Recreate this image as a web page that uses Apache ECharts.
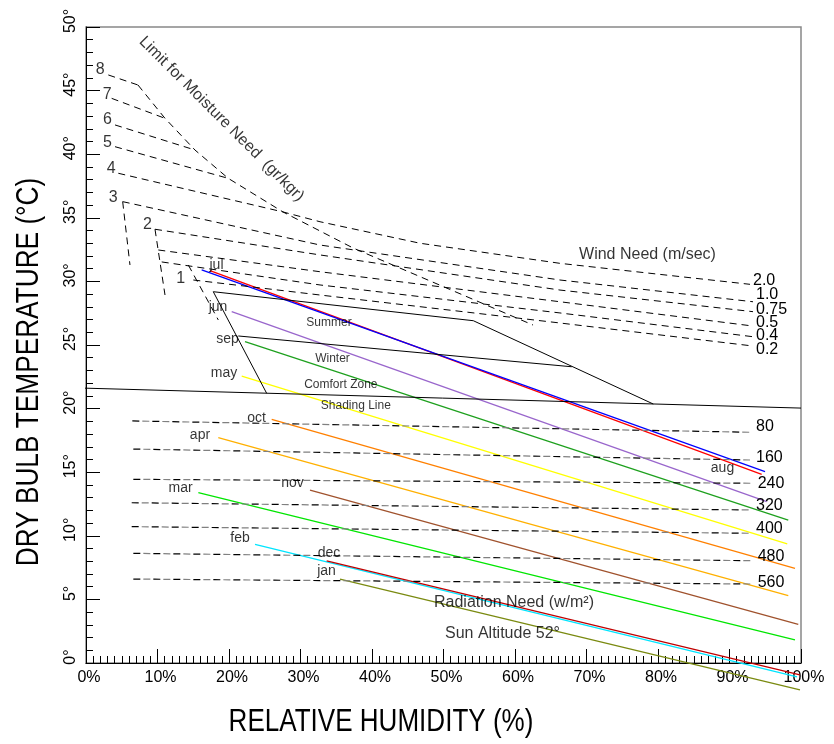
<!DOCTYPE html>
<html><head><meta charset="utf-8">
<script src="https://cdn.jsdelivr.net/npm/echarts@6/dist/echarts.min.js"></script>
<style>html,body{margin:0;padding:0;background:#fff}#c{width:834px;height:744px}</style>
</head><body><div id="c"></div>
<script>
// ===== DATA (x = relative humidity %, y = dry bulb temperature °C) =====
const xTickValues = [0,10,20,30,40,50,60,70,80,90,100];
const yTickValues = [0,5,10,15,20,25,30,35,40,45,50];

// monthly lines (start / end)
const monthNames   = ['jul','aug','jun','sep','may','oct','apr','nov','mar','feb','dec','jan'];
const monthStartRH = [17.34,16.18,20.38,22.24,21.78,25.97,18.50,31.33,15.71,23.64,33.66,35.52];
const monthStartT  = [30.84,30.90,27.62,25.26,22.56,19.16,17.71,13.60,13.39, 9.33, 8.02, 6.60];
const monthEndRH   = [94.50,94.97,95.20,98.22,98.08,99.16,98.22,99.62,99.16,99.44,99.86,99.86];
const monthEndT    = [14.83,15.04,12.68,11.24, 9.36, 7.44, 5.29, 3.04, 1.81,-1.10,-0.94,-2.12];
// month label anchors
const monthLabelNames = ['jul','aug','jun','sep','may','oct','apr','nov','mar','feb','dec','jan'];
const monthLabelRH = [18.25,89.02,18.46,19.79,19.30,23.87,15.94,28.88,13.22,21.54,33.99,33.64];
const monthLabelT  = [31.29,15.31,28.01,25.45,22.78,19.24,17.92,14.13,13.73, 9.80, 8.67, 7.26];

// moisture need lines (gr/kg) 8..5 end on the limit line
const moistureNames = ['8','7','6','5'];
const moistureStartRH = [3.12,3.59,4.06,4.06];
const moistureStartT  = [46.23,44.39,42.30,40.59];
const moistureEndRH   = [7.27,11.05,15.24,19.90];
const moistureEndT    = [45.44,42.82,40.33,38.10];
// moisture line 4 continues as wind 2.0 line
const line4RH = [4.52,27.55,32.73,46.71,66.29,92.87];
const line4T  = [38.50,35.46,34.69,33.00,31.42,29.77];
// limit for moisture need
const limitRH = [7.27,11.05,15.24,19.90,27.55,37.34,62.52];
const limitT  = [45.44,42.82,40.33,38.10,35.46,32.63,26.57];
// short moisture markers 3, 2, 1
const mark3RH = [5.13,6.15];   const mark3T = [36.27,31.29];
const mark2RH = [9.65,11.05];  const mark2T = [34.10,28.93];
const mark1RH = [14.31,18.50]; const mark1T = [31.29,26.97];
// moisture number labels
const moistureLabelNames = ['8','7','6','5','4','3','2','1'];
const moistureLabelRH = [1.98,2.96,3.01,3.01,3.52,3.82,8.60,13.24];
const moistureLabelT  = [46.64,44.69,42.71,40.90,38.89,36.62,34.43,30.21];

// wind need lines (m/sec)
const windNames = ['1.0','0.75','0.5','0.4','0.2'];
const wind10RH  = [5.13,32.73,66.29,93.29];  const wind10T  = [36.27,32.86,30.11,28.40];
const wind075RH = [9.65,32.73,66.29,93.29];  const wind075T = [34.10,32.08,29.32,27.62];
const wind05RH  = [10.11,32.73,66.29,93.29]; const wind05T  = [32.47,30.76,28.40,26.49];
const wind04RH  = [10.59,32.73,66.29,93.29]; const wind04T  = [31.53,29.72,27.52,25.65];
const wind02RH  = [15.01,32.73,66.29,93.29]; const wind02T  = [30.11,28.93,26.73,24.92];

// radiation need lines (w/m²)
const radNames   = ['80','160','240','320','400','480','560'];
const radStartRH = [6.48,6.62,6.62,6.39,6.39,6.62,6.62];
const radStartT  = [19.03,16.82,14.44,12.60,10.72,8.62,6.60];
const radEndRH   = [92.87,92.87,93.10,92.87,92.87,93.10,93.10];
const radEndT    = [18.14,15.96,14.13,12.03,10.20,8.04,6.21];

// comfort zone outline
const summerTopRH = [17.80,54.17]; const summerTopT = [29.19,26.91];
const zoneRightRH = [54.17,79.34]; const zoneRightT = [26.91,20.36];
const zoneLeftRH  = [17.80,25.27]; const zoneLeftT  = [29.19,21.20];
const winterTopRH = [21.30,67.93]; const winterTopT = [25.71,23.29];
const shadingRH   = [-1,100];      const shadingT   = [21.62,20.04];

// free annotations
const noteTexts = ['Summer','Winter','Comfort Zone','Shading Line','Wind Need (m/sec)','Radiation Need (w/m²)','Sun Altitude 52°'];
const noteRH = [33.99,34.48,35.64,37.74,78.53,59.86,58.25];
const noteT  = [26.75,23.95,21.86,20.23,32.08,4.72,2.33];
const limitText = 'Limit for Moisture Need  (gr/kgr)';
const limitTextRH = 18.95, limitTextT = 42.77;

// ===== STYLES =====
const FONT = '"Liberation Sans", Arial, Helvetica, sans-serif';
const monthColors = ['#ff0000','#0000ff','#9966cc','#1ea01e','#ffff00','#ff8000','#ffb000','#a0522d','#00e600','#00e5ff','#c00000','#7a8a10'];
const noteSizes = [12,12,12,12,16,16,16];
const windLabelDy = [-7,-2,-3,-1,4];
const radLabelDy = [-6,-2,0,-4,-5,-4,-1];
const dash = [7,5];

const zip = (a,b) => a.map((v,i)=>[v,b[i]]);
const series = [];
const base = {type:'line', symbol:'none', silent:true, animation:false, clip:false, z:3};

// month lines
monthNames.forEach((n,i)=>{
  series.push(Object.assign({}, base, {name:n,
    data:[[monthStartRH[i],monthStartT[i]],[monthEndRH[i],monthEndT[i]]],
    lineStyle:{color:monthColors[i], width:1.3}}));
});
// dashed black lines
function dashed(data, extra){
  series.push(Object.assign({}, base, {data, lineStyle:{color:'#000', width:1, type:dash}}, extra||{}));
}
moistureNames.forEach((n,i)=>dashed([[moistureStartRH[i],moistureStartT[i]],[moistureEndRH[i],moistureEndT[i]]]));
const endLbl = (txt, dy) => ({endLabel:{show:true, formatter:txt, color:'#000', fontSize:16, fontFamily:FONT, distance:3, offset:[0,dy]}});
dashed(zip(line4RH,line4T), endLbl('2.0',-4));
dashed(zip(limitRH,limitT));
dashed(zip(mark3RH,mark3T));
dashed(zip(mark2RH,mark2T));
dashed(zip(mark1RH,mark1T));
[[wind10RH,wind10T],[wind075RH,wind075T],[wind05RH,wind05T],[wind04RH,wind04T],[wind02RH,wind02T]].forEach((w,i)=>{
  dashed(zip(w[0],w[1]), endLbl(windNames[i], windLabelDy[i]));
});
// radiation lines: two-tone dashes
radNames.forEach((n,i)=>{
  const d = [[radStartRH[i],radStartT[i]],[radEndRH[i],radEndT[i]]];
  series.push(Object.assign({}, base, {data:d, lineStyle:{color:'#000', width:1.2, type:[7,13], dashOffset:0}},
    {endLabel:{show:true, formatter:n, color:'#000', fontSize:16, fontFamily:FONT, distance:6, offset:[0,radLabelDy[i]]}}));
  series.push(Object.assign({}, base, {data:d, lineStyle:{color:'#808080', width:1.2, type:[7,13], dashOffset:10}}));
});
// comfort zone
[[summerTopRH,summerTopT],[zoneRightRH,zoneRightT],[zoneLeftRH,zoneLeftT],[winterTopRH,winterTopT],[shadingRH,shadingT]].forEach(p=>{
  series.push(Object.assign({}, base, {data:zip(p[0],p[1]), lineStyle:{color:'#000', width:1}}));
});
// text annotations
function textSeries(names, xs, ys, size, extra){
  series.push({type:'scatter', silent:true, animation:false, symbolSize:0, z:5,
    data:names.map((n,i)=>({value:[xs[i],ys[i]], name:n,
      label:Object.assign({show:true, position:'inside', formatter:n, color:'#000',
        fontSize: Array.isArray(size)?size[i]:size, fontFamily:FONT}, extra||{})}))});
}
textSeries(monthLabelNames, monthLabelRH, monthLabelT, 14);
textSeries(moistureLabelNames, moistureLabelRH, moistureLabelT, 16);
textSeries(noteTexts, noteRH, noteT, noteSizes);
textSeries([limitText], [limitTextRH], [limitTextT], 16, {rotate:-45});

const chart = echarts.init(document.getElementById('c'), null, {renderer:'canvas'});
chart.setOption({
  backgroundColor:'#fff',
  animation:false,
  grid:{left:86, right:33, top:27, bottom:81, show:true, borderColor:'#888', borderWidth:1.5, backgroundColor:'transparent'},
  xAxis:{type:'value', min:0, max:100, interval:10,
    axisLine:{show:true, onZero:false, lineStyle:{color:'#000', width:1}},
    axisTick:{show:true, inside:true, length:14, lineStyle:{color:'#000'}},
    minorTick:{show:true, splitNumber:10, length:7, lineStyle:{color:'#000'}},
    splitLine:{show:false},
    axisLabel:{formatter:v=>xTickValues.includes(v)?v+'%':'', fontSize:16, color:'#000', fontFamily:FONT, margin:7, padding:[0,0,0,6]}},
  yAxis:{type:'value', min:0, max:50, interval:5,
    axisLine:{show:true, onZero:false, lineStyle:{color:'#000', width:1}},
    axisTick:{show:true, inside:true, length:14, lineStyle:{color:'#000'}},
    minorTick:{show:true, splitNumber:5, length:7, lineStyle:{color:'#000'}},
    splitLine:{show:false},
    axisLabel:{formatter:v=>yTickValues.includes(v)?v+'°':'', rotate:90, fontSize:16, color:'#000', fontFamily:FONT, margin:7, padding:[0,0,0,12]}},
  graphic:[
    {type:'text', x:381, y:722, scaleX:0.84, style:{text:'RELATIVE HUMIDITY (%)', font:'31px '+FONT, fill:'#000', align:'center', verticalAlign:'middle'}},
    {type:'text', rotation:Math.PI/2, x:29, y:372, scaleX:0.82, style:{text:'DRY BULB TEMPERATURE (°C)', font:'32px '+FONT, fill:'#000', align:'center', verticalAlign:'middle'}}
  ],
  series
});
</script></body></html>
